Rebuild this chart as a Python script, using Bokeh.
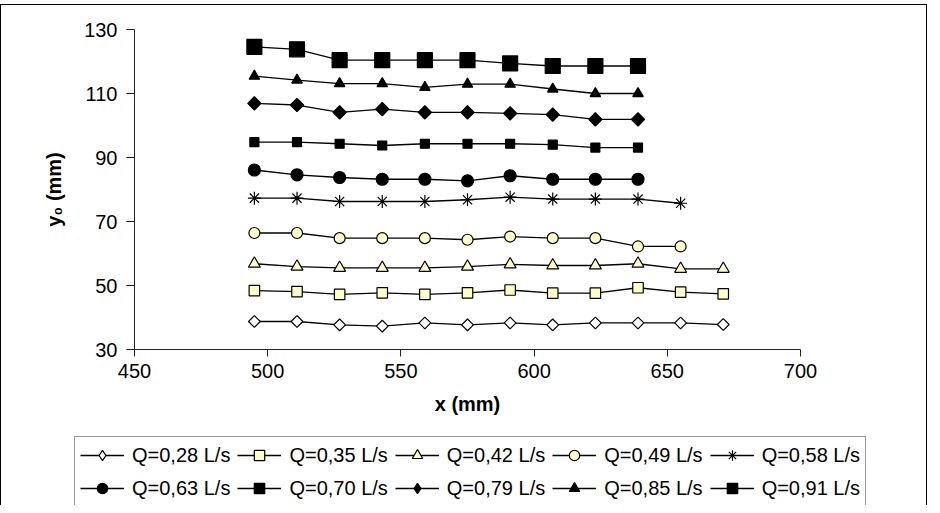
import numpy as np
from bokeh.plotting import figure
from bokeh.layouts import column, row
from bokeh.models import Range1d, FixedTicker, Legend, LegendItem
from bokeh.embed import file_html
from bokeh.resources import INLINE

# ---- data ----
x_pos = [495, 511, 527, 543, 559, 575, 591, 607, 623, 639, 655, 671]

q028 = [38.75, 38.75, 37.7, 37.3, 38.3, 37.7, 38.3, 37.7, 38.3, 38.3, 38.3, 37.8]
q035 = [48.4, 48.1, 47.2, 47.7, 47.2, 47.7, 48.6, 47.6, 47.6, 49.3, 47.9, 47.4]
q042 = [56.8, 55.9, 55.5, 55.5, 55.5, 55.9, 56.6, 56.25, 56.25, 56.8, 55.2, 55.2]
q049 = [66.4, 66.4, 64.8, 64.8, 64.8, 64.3, 65.3, 64.8, 64.8, 62.2, 62.2]
q058 = [77.3, 77.3, 76.25, 76.25, 76.25, 76.8, 77.6, 77.0, 77.0, 77.0, 75.7]
q063 = [86.1, 84.6, 83.75, 83.2, 83.2, 82.7, 84.3, 83.2, 83.2, 83.2]
q070 = [94.8, 94.8, 94.3, 93.75, 94.3, 94.3, 94.3, 94.0, 93.1, 93.1]
q079 = [106.9, 106.4, 104.1, 105.1, 104.1, 104.1, 103.8, 103.4, 101.9, 101.9]
q085 = [115.4, 114.2, 113.1, 113.1, 111.9, 112.9, 112.9, 111.4, 110.0, 110.0]
q091 = [124.6, 123.8, 120.4, 120.4, 120.4, 120.4, 119.4, 118.6, 118.6, 118.6]

labels = ["Q=0,28 L/s", "Q=0,35 L/s", "Q=0,42 L/s", "Q=0,49 L/s", "Q=0,58 L/s",
          "Q=0,63 L/s", "Q=0,70 L/s", "Q=0,79 L/s", "Q=0,85 L/s", "Q=0,91 L/s"]
series = [q028, q035, q042, q049, q058, q063, q070, q079, q085, q091]

x_ticks = [450, 500, 550, 600, 650, 700]
y_ticks = [30, 50, 70, 90, 110, 130]

# ---- styles ----
YEL = "#FFFFC6"
styles = [
    dict(marker="square", legend_marker="diamond", size=8.3, angle=np.pi / 4, fill_color="white"),
    dict(marker="square", legend_marker="square", size=10.5, angle=0, fill_color=YEL),
    dict(marker="triangle", legend_marker="triangle", size=12, angle=0, fill_color=YEL),
    dict(marker="circle", legend_marker="circle", size=11, angle=0, fill_color=YEL),
    dict(marker="asterisk", legend_marker="asterisk", size=13, angle=0, fill_color="black"),
    dict(marker="circle", legend_marker="circle", size=12, angle=0, fill_color="black"),
    dict(marker="square", legend_marker="square", size=9, angle=0, fill_color="black"),
    dict(marker="square", legend_marker="diamond", size=9.4, angle=np.pi / 4, fill_color="black"),
    dict(marker="triangle", legend_marker="triangle", size=10.5, angle=0, fill_color="black"),
    dict(marker="square", legend_marker="square", size=15, angle=0, fill_color="black"),
]

FONT = "Liberation Sans"
W = 927
H1, H2 = 428, 73

# ---- main chart ----
p = figure(width=W, height=H1, output_backend="svg", toolbar_location=None,
           x_range=Range1d(450, 700), y_range=Range1d(30, 130),
           min_border_left=134, min_border_right=127,
           min_border_top=25, min_border_bottom=83)
p.outline_line_color = None
p.grid.visible = False
p.background_fill_color = "white"
p.border_fill_color = None
p.styles = {"box-shadow": "inset 1px 1px 0 0 #000000, inset -1px 0 0 0 #000000"}

for ax in (p.xaxis[0], p.yaxis[0]):
    ax.axis_line_color = "#222222"
    ax.major_tick_line_color = "#222222"
    ax.minor_tick_line_color = None
    ax.major_tick_in = 0
    ax.major_label_text_font = FONT
    ax.major_label_text_font_size = "20px"
    ax.major_label_text_color = "black"
    ax.axis_label_text_font = FONT
    ax.axis_label_text_font_size = "20px"
    ax.axis_label_text_font_style = "bold"
    ax.axis_label_text_color = "black"

p.xaxis.ticker = FixedTicker(ticks=x_ticks)
p.yaxis.ticker = FixedTicker(ticks=y_ticks)
p.xaxis.major_tick_out = 7
p.yaxis.major_tick_out = 8
p.xaxis.major_label_standoff = 7
p.yaxis.major_label_standoff = 9
p.xaxis.axis_label = "x (mm)"
p.yaxis.axis_label = "y\u2080 (mm)"
p.xaxis.axis_label_standoff = 12
p.yaxis.axis_label_standoff = 16

for ys, st in zip(series, styles):
    xs = x_pos[:len(ys)]
    p.line(xs, ys, line_color="black", line_width=1.3)
    p.scatter(xs, ys, marker=st["marker"], size=st["size"], angle=st["angle"],
              fill_color=st["fill_color"], line_color="black", line_width=1.2)

# ---- legend strip (own figure; its renderers sit outside its visible range) ----
q = figure(width=W, height=H2, output_backend="svg", toolbar_location=None,
           x_axis_location=None, y_axis_location=None,
           x_range=Range1d(0, 1), y_range=Range1d(0, 1),
           min_border_left=0, min_border_right=0,
           min_border_top=0, min_border_bottom=0)
q.outline_line_color = None
q.grid.visible = False
q.background_fill_color = None
q.border_fill_color = None
q.styles = {"box-shadow": "inset 1px 0 0 0 #000000, inset -1px 0 0 0 #000000"}

items = []
for lab, st in zip(labels, styles):
    lr = q.line([-5, -4], [-5, -4], line_color="black", line_width=1.3)
    sr = q.scatter([-5], [-5], marker=st["legend_marker"], size=st["size"],
                   fill_color=st["fill_color"], line_color="black", line_width=1.2)
    items.append(LegendItem(label=lab, renderers=[lr, sr]))

legend = Legend(items=items, orientation="horizontal", ncols=5,
                location=(74, -2),
                label_text_font=FONT, label_text_font_size="20px",
                label_text_color="black",
                glyph_width=44, glyph_height=26, label_height=22,
                label_standoff=8, spacing=7, padding=5, margin=0,
                border_line_color="#333333", border_line_width=1,
                background_fill_color="white", background_fill_alpha=1)
q.add_layout(legend, "center")

layout = column(p, row(q, spacing=0), spacing=0)
layout.margin = (4, 0, 0, 0)

open("out.html", "w").write(file_html(layout, INLINE))
